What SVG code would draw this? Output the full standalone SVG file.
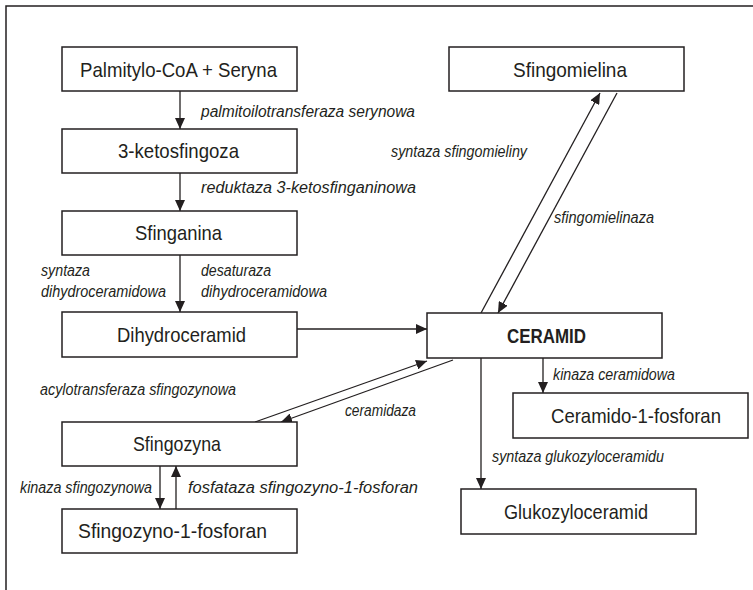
<svg xmlns="http://www.w3.org/2000/svg" width="753" height="590" viewBox="0 0 753 590">
<style>
.box{fill:#fff;stroke:#231f20;stroke-width:1.5}
.nt{font-family:"Liberation Sans Narrow","Liberation Sans",sans-serif;font-size:21px;fill:#231f20}
.bt{font-weight:bold}
.lb{font-family:"Liberation Sans Narrow","Liberation Sans",sans-serif;font-size:16px;font-style:italic;fill:#231f20}
.ln{stroke:#231f20;stroke-width:1.3;fill:none;marker-end:url(#ah)}
.fr{stroke:#231f20;stroke-width:1.5;fill:none}
</style>
<defs>
<marker id="ah" markerUnits="userSpaceOnUse" markerWidth="12" markerHeight="10" refX="11" refY="5" orient="auto">
<path d="M0,0 L11,5 L0,10 Z" fill="#231f20"/>
</marker>
</defs>
<rect width="753" height="590" fill="#fff"/>
<path class="fr" d="M753,6 H6 V590"/>

<g id="connectors">
<line class="ln" x1="180" y1="91" x2="180" y2="129"/>
<line class="ln" x1="180" y1="173" x2="180" y2="211"/>
<line class="ln" x1="180" y1="255" x2="180" y2="312"/>
<line class="ln" x1="297" y1="329" x2="427" y2="329"/>
<line class="ln" x1="481" y1="313" x2="600" y2="93"/>
<line class="ln" x1="617" y1="93" x2="498" y2="313"/>
<line class="ln" x1="255" y1="422" x2="427" y2="361"/>
<line class="ln" x1="453" y1="360" x2="281" y2="422"/>
<line class="ln" x1="160" y1="466" x2="160" y2="509"/>
<line class="ln" x1="176" y1="509" x2="176" y2="466"/>
<line class="ln" x1="543" y1="358" x2="543" y2="393"/>
<line class="ln" x1="481" y1="358" x2="481" y2="489"/>
</g>

<g id="labels">
<text class="lb" x="201" y="117" textLength="214" lengthAdjust="spacingAndGlyphs">palmitoilotransferaza serynowa</text>
<text class="lb" x="201" y="193" textLength="215" lengthAdjust="spacingAndGlyphs">reduktaza 3-ketosfinganinowa</text>
<text class="lb" x="391" y="157" textLength="136" lengthAdjust="spacingAndGlyphs">syntaza sfingomieliny</text>
<text class="lb" x="554" y="223" textLength="100" lengthAdjust="spacingAndGlyphs">sfingomielinaza</text>
<text class="lb" x="41" y="276" textLength="49" lengthAdjust="spacingAndGlyphs">syntaza</text>
<text class="lb" x="41" y="297" textLength="125" lengthAdjust="spacingAndGlyphs">dihydroceramidowa</text>
<text class="lb" x="201" y="276" textLength="70" lengthAdjust="spacingAndGlyphs">desaturaza</text>
<text class="lb" x="201" y="297" textLength="126" lengthAdjust="spacingAndGlyphs">dihydroceramidowa</text>
<text class="lb" x="40" y="395" textLength="196" lengthAdjust="spacingAndGlyphs">acylotransferaza sfingozynowa</text>
<text class="lb" x="345" y="416" textLength="71" lengthAdjust="spacingAndGlyphs">ceramidaza</text>
<text class="lb" x="553" y="380" textLength="122" lengthAdjust="spacingAndGlyphs">kinaza ceramidowa</text>
<text class="lb" x="492" y="462" textLength="172" lengthAdjust="spacingAndGlyphs">syntaza glukozyloceramidu</text>
<text class="lb" x="20" y="493" textLength="132" lengthAdjust="spacingAndGlyphs">kinaza sfingozynowa</text>
<text class="lb" x="188" y="493" textLength="230" lengthAdjust="spacingAndGlyphs">fosfataza sfingozyno-1-fosforan</text>
</g>

<g id="n-palmitylo"><rect class="box" x="62" y="47" width="235" height="44"/><text class="nt" x="80" y="77" textLength="197" lengthAdjust="spacingAndGlyphs">Palmitylo-CoA + Seryna</text></g>
<g id="n-ketosfingoza"><rect class="box" x="62" y="129" width="235" height="44"/><text class="nt" x="118" y="158" textLength="121" lengthAdjust="spacingAndGlyphs">3-ketosfingoza</text></g>
<g id="n-sfinganina"><rect class="box" x="62" y="211" width="235" height="44"/><text class="nt" x="135" y="240" textLength="87" lengthAdjust="spacingAndGlyphs">Sfinganina</text></g>
<g id="n-dihydroceramid"><rect class="box" x="62" y="312" width="235" height="45"/><text class="nt" x="117" y="342" textLength="129" lengthAdjust="spacingAndGlyphs">Dihydroceramid</text></g>
<g id="n-sfingomielina"><rect class="box" x="449" y="47" width="235" height="44"/><text class="nt" x="513" y="77" textLength="114" lengthAdjust="spacingAndGlyphs">Sfingomielina</text></g>
<g id="n-ceramid"><rect class="box" x="427" y="313" width="235" height="45"/><text class="nt bt" x="507" y="343" textLength="79" lengthAdjust="spacingAndGlyphs">CERAMID</text></g>
<g id="n-sfingozyna"><rect class="box" x="62" y="422" width="235" height="44"/><text class="nt" x="133" y="451" textLength="88" lengthAdjust="spacingAndGlyphs">Sfingozyna</text></g>
<g id="n-s1p"><rect class="box" x="62" y="509" width="235" height="44"/><text class="nt" x="78" y="538" textLength="189" lengthAdjust="spacingAndGlyphs">Sfingozyno-1-fosforan</text></g>
<g id="n-c1p"><rect class="box" x="513" y="393" width="235" height="45"/><text class="nt" x="551" y="423" textLength="170" lengthAdjust="spacingAndGlyphs">Ceramido-1-fosforan</text></g>
<g id="n-glukozyloceramid"><rect class="box" x="461" y="489" width="235" height="45"/><text class="nt" x="504" y="519" textLength="144" lengthAdjust="spacingAndGlyphs">Glukozyloceramid</text></g>
</svg>
